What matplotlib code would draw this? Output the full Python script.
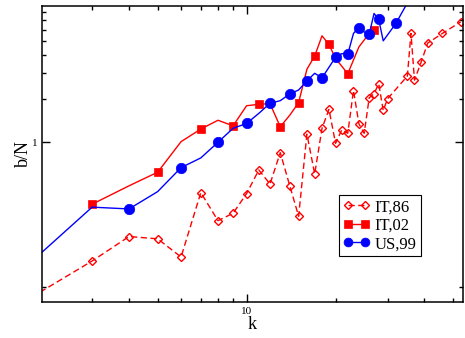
import numpy as np
import matplotlib
matplotlib.use("Agg")
import matplotlib.pyplot as plt
from matplotlib.ticker import FixedLocator, NullFormatter, FixedFormatter

plt.rcParams['font.family'] = ['Liberation Serif', 'DejaVu Serif']

# IT,86 (open diamonds, dashed)
k_it86 = [2, 3, 4, 5, 6, 7, 8, 9, 10, 11, 12, 13, 14, 15, 16, 17, 18, 19, 20,
          21, 22, 23, 24, 25, 26, 27, 28, 29, 30, 35, 36, 37, 39, 41, 46, 53]
bn_it86 = [0.092, 0.151, 0.223, 0.215, 0.161, 0.449, 0.287, 0.323, 0.442, 0.644,
           0.514, 0.848, 0.50, 0.308, 1.14, 0.604, 1.25, 1.69, 0.984, 1.22,
           1.154, 2.28, 1.34, 1.154, 2.03, 2.17, 2.54, 1.66, 2.0, 2.87,
           5.66, 2.69, 3.60, 4.85, 5.66, 6.8]
marks_it86 = list(range(1, len(k_it86)))

# IT,02 (filled squares)
k_it02 = [3, 4, 5, 6, 7, 8, 9, 10, 11, 12, 13, 14, 15, 16, 17, 18, 19, 20,
          22, 24, 26, 27]
bn_it02 = [0.373, 0.50, 0.621, 1.01, 1.235, 1.42, 1.30, 1.79, 1.83, 1.85, 1.28,
           1.54, 1.88, 3.2, 3.95, 5.45, 4.75, 3.8, 2.98, 4.57, 5.66, 5.97]
marks_it02 = [0, 2, 4, 6, 8, 10, 12, 14, 16, 18, 21]

# US,99 (filled circles)
k_us99 = [2, 3, 4, 5, 6, 7, 8, 9, 10, 11, 12, 13, 14, 15, 16, 17, 18, 19, 20,
          21, 22, 23, 24, 25, 26, 27, 28, 29, 32, 36]
bn_us99 = [0.169, 0.356, 0.346, 0.456, 0.668, 0.78, 1.0, 1.25, 1.35, 1.585,
           1.86, 1.94, 2.157, 2.30, 2.66, 3.0, 2.79, 3.3, 3.87, 4.1, 4.07,
           5.66, 6.22, 5.8, 5.60, 7.78, 7.07, 5.03, 6.63, 10.2]
marks_us99 = [2, 4, 6, 8, 10, 12, 14, 16, 18, 20, 22, 24, 26, 28]

fig = plt.figure(figsize=(4.65, 3.38), dpi=100)
ax = fig.add_axes([0.0903, 0.1074, 0.9054, 0.8757])

ax.plot(k_it86, bn_it86, color='red', lw=1.0, ls=(0, (4.5, 2.5)),
        marker='D', ms=4.4, mfc='none', mec='red', mew=1.0,
        markevery=marks_it86, label='IT,86')
ax.plot(k_it02, bn_it02, color='red', lw=1.0,
        marker='s', ms=6.3, mfc='red', mec='red', mew=0.5,
        markevery=marks_it02, label='IT,02')
ax.plot(k_us99, bn_us99, color='blue', lw=1.0,
        marker='o', ms=7.5, mfc='blue', mec='blue', mew=0.5,
        markevery=marks_us99, label='US,99')

ax.set_xscale('log')
ax.set_yscale('log')
ax.set_xlim(2.03, 54)
ax.set_ylim(0.079, 8.8)

ax.xaxis.set_major_locator(FixedLocator([10]))
ax.xaxis.set_major_formatter(FixedFormatter(['10']))
ax.xaxis.set_minor_locator(FixedLocator([3, 4, 5, 6, 7, 8, 9, 20, 30, 40, 50]))
ax.xaxis.set_minor_formatter(NullFormatter())
ax.yaxis.set_major_locator(FixedLocator([1]))
ax.yaxis.set_major_formatter(FixedFormatter(['1']))
ax.yaxis.set_minor_locator(FixedLocator([0.1, 2, 3, 4, 5, 6, 7, 8, 9]))
ax.yaxis.set_minor_formatter(NullFormatter())

ax.tick_params(which='both', direction='in', top=True, right=True, width=1.0,
               labelsize=8)
ax.tick_params(which='major', length=6, pad=3.5)
ax.tick_params(which='minor', length=3)
for s in ax.spines.values():
    s.set_linewidth(1.1)

ax.set_xlabel('k', fontsize=13, labelpad=0)
ax.set_ylabel('b/N', fontsize=13, labelpad=0)

leg = ax.legend(loc='upper left', bbox_to_anchor=(0.7055, 0.3605),
                borderaxespad=0, fontsize=12, numpoints=2, markerscale=0.85,
                handlelength=1.6, handletextpad=0.3, labelspacing=0.15,
                borderpad=0.25, fancybox=False, framealpha=1)
leg.get_frame().set_edgecolor('black')
leg.get_frame().set_linewidth(0.8)

fig.savefig('out.png', dpi=100)
